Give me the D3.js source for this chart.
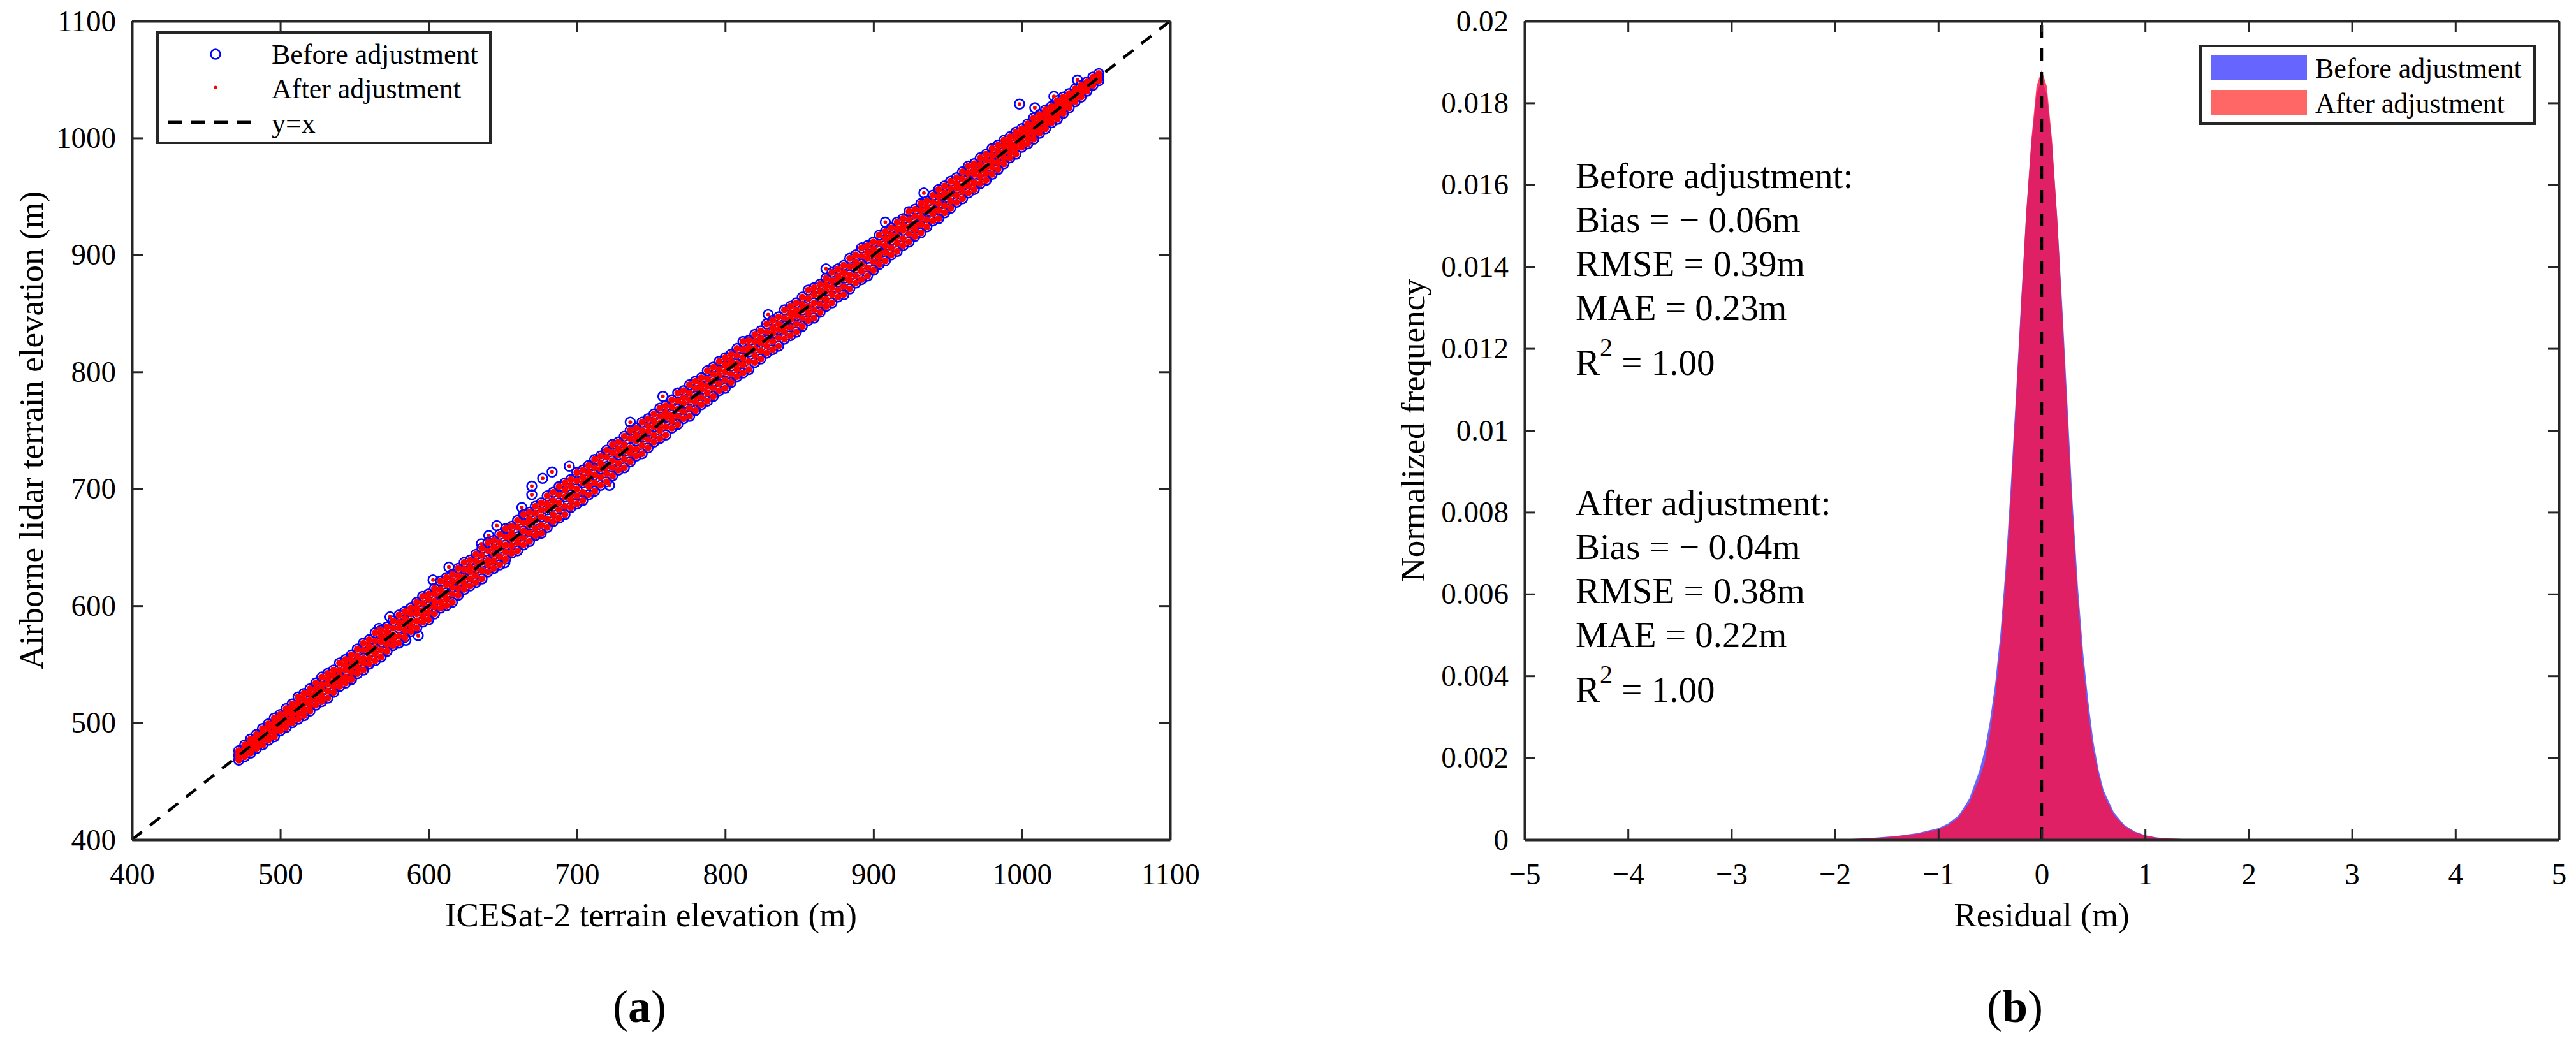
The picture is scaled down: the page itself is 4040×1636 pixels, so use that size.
<!DOCTYPE html>
<html><head><meta charset="utf-8">
<script src="https://cdn.jsdelivr.net/npm/d3@7"></script>
<style>
body{margin:0;background:#fff}
svg text{font-family:"Liberation Serif","Times New Roman",serif;fill:#000}
</style>
</head><body><svg id="c" width="4040" height="1636"></svg>
<script>
// ---------- (a) scatter data ----------
const elevation = [472,476,480,484,488,492,496,500,504,508,
512,516,520,524,528,532,536,540,544,548,
552,556,560,564,568,572,576,580,584,588,
592,596,600,604,608,612,616,620,624,628,
632,636,640,644,648,652,656,660,664,668,
672,676,680,684,688,692,696,700,704,708,
712,716,720,724,728,732,736,740,744,748,
752,756,760,764,768,772,776,780,784,788,
792,796,800,804,808,812,816,820,824,828,
832,836,840,844,848,852,856,860,864,868,
872,876,880,884,888,892,896,900,904,908,
912,916,920,924,928,932,936,940,944,948,
952,956,960,964,968,972,976,980,984,988,
992,996,1000,1004,1008,1012,1016,1020,1024,1028,
1032,1036,1040,1044,1048,1052];
// residuals (airborne - ICESat-2, m) of the scatter rows
const beforeHigh = [4,5,6,6,7,7,8,7,8,8, 10,9,9,10,11,10,9,11,10,10, 11,12,11,13,11,10,11,12,11,10, 11,12,10,11,13,12,11,12,13,11,
12,13,14,12,13,14,12,13,14,12, 13,12,14,13,14,13,12,14,12,12, 13,12,13,14,12,13,14,12,13,12, 12,13,11,12,14,12,13,12,11,13,
12,13,12,11,12,14,11,12,11,13, 12,11,13,12,11,12,14,12,11,12, 13,12,11,13,12,14,12,11,13,12, 11,12,11,13,11,12,10,11,12,11,
11,10,11,12,10,11,10,11,10,10, 9,9,8,8,9,8,8,7,8,7, 6,6,5,4,4,3];
const beforeMid = [0,1,0,-1,1,0,1,0,-1,0, 1,0,-1,1,0,1,-1,0,1,0, 0,-1,1,0,1,0,-1,1,0,-1, 1,0,-1,0,1,-1,0,1,0,1,
0,1,-1,0,1,0,1,-1,0,1, 1,0,2,1,0,1,-1,0,1,0, 0,1,-1,0,1,0,-1,1,0,1, 1,0,1,-1,0,1,0,-1,1,0,
0,1,0,1,-1,0,1,0,1,-1, 1,0,-1,1,0,1,0,-1,0,1, 0,1,0,-1,1,0,1,0,-1,0, 1,0,1,0,-1,0,1,-1,0,1,
0,1,-1,0,1,0,-1,0,1,0, 0,-1,1,0,0,1,-1,0,1,0, 0,1,0,0,1,0];
const beforeLow = [-4,-5,-6,-6,-7,-7,-8,-7,-8,-8, -9,-10,-10,-9,-10,-11,-10,-9,-10,-11, -10,-11,-10,-11,-12,-11,-10,-12,-11,-10, -11,-10,-12,-11,-10,-12,-13,-11,-10,-11,
-12,-13,-11,-12,-13,-12,-11,-13,-12,-13, -12,-14,-13,-12,-13,-14,-12,-13,-14,-13, -14,-13,-14,-13,-12,-14,-13,-12,-14,-13, -12,-13,-14,-12,-13,-12,-14,-13,-12,-13,
-13,-12,-14,-13,-12,-13,-14,-12,-13,-12, -13,-14,-12,-13,-14,-13,-12,-14,-13,-12, -13,-12,-14,-13,-12,-13,-14,-13,-12,-13, -12,-13,-12,-13,-12,-13,-12,-11,-13,-12,
-12,-11,-12,-11,-12,-11,-12,-11,-11,-10, -9,-10,-8,-9,-9,-8,-8,-7,-8,-7, -6,-5,-5,-4,-3,-3];
const afterHigh = [4,5,6,6,7,7,8,7,8,8, 10,9,9,10,11,10,9,11,10,10, 11,12,11,13,11,10,11,12,11,10, 11,12,10,11,13,12,11,12,13,11,
12,13,14,12,13,14,12,13,14,12, 13,12,14,13,14,13,12,14,12,12, 13,12,13,14,12,13,14,12,13,12, 12,13,11,12,14,12,13,12,11,13,
12,13,12,11,12,14,11,12,11,13, 12,11,13,12,11,12,14,12,11,12, 13,12,11,13,12,14,12,11,13,12, 11,12,11,13,11,12,10,11,12,11,
11,10,11,12,10,11,10,11,10,10, 9,9,8,8,9,8,8,7,8,7, 6,6,5,4,4,3];
const afterUpper = [2,2,3,3,3,4,4,3,4,4, 5,4,5,5,5,5,4,5,5,5, 5,6,5,6,6,5,5,6,5,5, 6,6,5,6,6,6,5,6,7,5,
6,7,7,6,6,7,6,7,7,6, 7,6,7,6,7,7,6,7,6,6, 6,6,7,7,6,6,7,6,6,6, 6,6,5,6,7,6,6,6,5,6,
6,6,6,5,6,7,5,6,5,6, 6,5,6,6,5,6,7,6,5,6, 6,6,5,6,6,7,6,5,6,6, 5,6,5,6,5,6,5,5,6,5,
5,5,5,6,5,5,5,5,5,5, 4,4,4,4,4,4,4,3,4,3, 3,3,2,2,2,1];
const afterMid = [0,1,0,-1,1,0,1,0,-1,0, 1,0,-1,1,0,1,-1,0,1,0, 0,-1,1,0,1,0,-1,1,0,-1, 1,0,-1,0,1,-1,0,1,0,1,
0,1,-1,0,1,0,1,-1,0,1, 1,0,2,1,0,1,-1,0,1,0, 0,1,-1,0,1,0,-1,1,0,1, 1,0,1,-1,0,1,0,-1,1,0,
0,1,0,1,-1,0,1,0,1,-1, 1,0,-1,1,0,1,0,-1,0,1, 0,1,0,-1,1,0,1,0,-1,0, 1,0,1,0,-1,0,1,-1,0,1,
0,1,-1,0,1,0,-1,0,1,0, 0,-1,1,0,0,1,-1,0,1,0, 0,1,0,0,1,0];
const afterLower = [-2,-2,-3,-3,-3,-4,-4,-3,-4,-4, -4,-5,-5,-4,-5,-5,-5,-4,-5,-5, -5,-5,-5,-5,-6,-5,-5,-6,-5,-5, -5,-5,-6,-5,-5,-6,-6,-5,-5,-5,
-6,-6,-5,-6,-6,-6,-5,-6,-6,-6, -6,-7,-6,-6,-6,-7,-6,-6,-7,-6, -7,-6,-7,-6,-6,-7,-6,-6,-7,-6, -6,-6,-7,-6,-6,-6,-7,-6,-6,-6,
-6,-6,-7,-6,-6,-6,-7,-6,-6,-6, -6,-7,-6,-6,-7,-6,-6,-7,-6,-6, -6,-6,-7,-6,-6,-6,-7,-6,-6,-6, -6,-6,-6,-6,-6,-6,-6,-5,-6,-6,
-6,-5,-6,-5,-6,-5,-6,-5,-5,-5, -4,-5,-4,-4,-4,-4,-4,-3,-4,-3, -3,-2,-2,-2,-1,-1];
const afterLow = [-4,-5,-6,-6,-7,-7,-8,-7,-8,-8, -9,-10,-10,-9,-10,-11,-10,-9,-10,-11, -10,-11,-10,-11,-12,-11,-10,-12,-11,-10, -11,-10,-12,-11,-10,-12,-13,-11,-10,-11,
-12,-13,-11,-12,-13,-12,-11,-13,-12,-13, -12,-14,-13,-12,-13,-14,-12,-13,-14,-13, -14,-13,-14,-13,-12,-14,-13,-12,-14,-13, -12,-13,-14,-12,-13,-12,-14,-13,-12,-13,
-13,-12,-14,-13,-12,-13,-14,-12,-13,-12, -13,-14,-12,-13,-14,-13,-12,-14,-13,-12, -13,-12,-14,-13,-12,-13,-14,-13,-12,-13, -12,-13,-12,-13,-12,-13,-12,-11,-13,-12,
-12,-11,-12,-11,-12,-11,-12,-11,-11,-10, -9,-10,-8,-9,-9,-8,-8,-7,-8,-7, -6,-5,-5,-4,-3,-3];
// isolated points (ICESat-2 elevation, airborne elevation)
const outlierX       = [566.6,574,584.7,593,603,613.7,635.6,640.6,646,651.4,662.9,669.6,669.6,676.9,683.3,694.9,722,736,758,829,868,908,934,998.5,1008.8,1021.7,1037.6];
const outlierBeforeY = [580.7,590.5,570.5,574.5,622,633,653,660,668.5,636.8,684,695,702.3,709,714.4,719.3,703,757,779,849,888,928,953,1029,1025.8,1035.6,1049.6];
const outlierAfterY  = [580.7,590.5,570.5,574.5,622,633,653,660,668.5,636.8,684,695,702.3,709,714.4,719.3,703,757,779,849,888,928,953,1029,1025.8,1035.6,1049.6];
const ticksA = [400,500,600,700,800,900,1000,1100];

// ---------- (b) histogram data ----------
const histResidual = [-2.0,-1.8,-1.6,-1.4,-1.2,-1.0,-0.9,-0.8,-0.7,-0.6,-0.55,-0.5,-0.45,-0.4,-0.35,-0.3,-0.25,-0.2,-0.15,-0.1,-0.05,0,0.05,0.1,0.15,0.2,0.25,0.3,0.35,0.4,0.45,0.5,0.55,0.6,0.7,0.8,0.9,1.0,1.1,1.2,1.4,1.6];
const beforeFreq = [0,0.00002,0.00005,0.00009,0.00016,0.00028,0.0004,0.0006,0.001,0.0017,0.0022,0.0029,0.0038,0.0050,0.0066,0.0086,0.0108,0.0131,0.0153,0.0170,0.0182,0.0186,0.0182,0.0170,0.0152,0.0130,0.0106,0.0082,0.0062,0.0046,0.0034,0.0024,0.0017,0.0012,0.00066,0.00036,0.0002,0.00011,0.00006,0.00003,0.00001,0];
const afterFreq  = [0,0.00002,0.00004,0.00008,0.00014,0.00025,0.00036,0.00055,0.0009,0.0015,0.0019,0.0026,0.0035,0.0047,0.0063,0.0083,0.0106,0.0130,0.0153,0.0171,0.0184,0.0188,0.0184,0.0171,0.0152,0.0128,0.0103,0.0079,0.0059,0.0043,0.0031,0.0022,0.0016,0.0011,0.0006,0.00033,0.00018,0.0001,0.00005,0.00003,0.00001,0];
const ticksBx = [-5,-4,-3,-2,-1,0,1,2,3,4,5];
const ticksBy = [0,0.002,0.004,0.006,0.008,0.01,0.012,0.014,0.016,0.018,0.02];
const statsBefore = ["Before adjustment:","Bias = \u2212 0.06m","RMSE = 0.39m","MAE = 0.23m","1.00"];
const statsAfter  = ["After adjustment:","Bias = \u2212 0.04m","RMSE = 0.38m","MAE = 0.22m","1.00"];
const seriesNames = ["Before adjustment","After adjustment"];

// ---------- drawing ----------
const svg = d3.select("#c");
const AX = "#262626", TICKFS = 47, TITLEFS = 53;

function frame(x, y, xt, yt, fx, fy){
  const [x0,x1] = x.range(), y1 = y.range()[1];
  const g = svg.append("g");
  const b = g.append("g").attr("transform",`translate(0,${y.range()[0]})`)
    .call(d3.axisBottom(x).tickValues(xt).tickFormat(fx).tickSize(-17).tickPadding(37).tickSizeOuter(0));
  const t = g.append("g").attr("transform",`translate(0,${y1})`)
    .call(d3.axisTop(x).tickValues(xt).tickFormat("").tickSize(-17).tickSizeOuter(0));
  const l = g.append("g").attr("transform",`translate(${x0},0)`)
    .call(d3.axisLeft(y).tickValues(yt).tickFormat(fy).tickSize(-17).tickPadding(25).tickSizeOuter(0));
  const r = g.append("g").attr("transform",`translate(${x1},0)`)
    .call(d3.axisRight(y).tickValues(yt).tickFormat("").tickSize(-17).tickSizeOuter(0));
  [b,t,l,r].forEach(a=>{
    a.select(".domain").attr("stroke",AX).attr("stroke-width",4);
    a.selectAll(".tick line").attr("stroke",AX).attr("stroke-width",3);
    a.selectAll("text").attr("font-size",TICKFS).attr("font-family","Liberation Serif").attr("fill","#000");
  });
  return g;
}

// (a) scales
const xA = d3.scaleLinear([400,1100],[207,1835]);
const yA = d3.scaleLinear([400,1100],[1317,33]);
const gA = svg.append("g");
const beforePts = [];
[beforeHigh,beforeMid,beforeLow].forEach(row=>elevation.forEach((e,i)=>beforePts.push([e,e+row[i]])));
outlierX.forEach((e,i)=>beforePts.push([e,outlierBeforeY[i]]));
const afterPts = [];
[afterHigh,afterUpper,afterMid,afterLower,afterLow].forEach(row=>elevation.forEach((e,i)=>afterPts.push([e,e+row[i]])));
gA.selectAll("circle.b").data(beforePts).join("circle").attr("class","b")
  .attr("cx",d=>xA(d[0])).attr("cy",d=>yA(d[1])).attr("r",7.5)
  .attr("fill","none").attr("stroke","#0000ff").attr("stroke-width",2.5);
gA.selectAll("circle.a").data(afterPts).join("circle").attr("class","a")
  .attr("cx",d=>xA(d[0])).attr("cy",d=>yA(d[1])).attr("r",5.5).attr("fill","#ff0000");
gA.selectAll("circle.ao").data(outlierX.map((e,i)=>[e,outlierAfterY[i]])).join("circle").attr("class","ao")
  .attr("cx",d=>xA(d[0])).attr("cy",d=>yA(d[1])).attr("r",3).attr("fill","#ff0000");
// y = x reference line
gA.append("line").attr("x1",xA(400)).attr("y1",yA(400)).attr("x2",xA(1100)).attr("y2",yA(1100))
  .attr("stroke","#000").attr("stroke-width",4.5).attr("stroke-dasharray","20,16");
frame(xA,yA,ticksA,ticksA,d=>String(d),d=>String(d));

// legend (a)
const lgA = svg.append("g");
lgA.append("rect").attr("x",247).attr("y",51).attr("width",522).attr("height",173)
  .attr("fill","#fff").attr("stroke",AX).attr("stroke-width",4);
lgA.append("circle").attr("cx",338).attr("cy",85).attr("r",7.5).attr("fill","none").attr("stroke","#0000ff").attr("stroke-width",2.5);
lgA.append("circle").attr("cx",338).attr("cy",137).attr("r",2.5).attr("fill","#ff0000");
lgA.append("line").attr("x1",263).attr("x2",398).attr("y1",192).attr("y2",192)
  .attr("stroke","#000").attr("stroke-width",5).attr("stroke-dasharray","22,14");
[seriesNames[0],seriesNames[1],"y=x"].forEach((s,i)=>
  lgA.append("text").attr("x",426).attr("y",100+i*54).attr("font-size",44).text(s));

// titles (a)
svg.append("text").attr("x",1021).attr("y",1453).attr("text-anchor","middle").attr("font-size",TITLEFS)
  .text("ICESat-2 terrain elevation (m)");
svg.append("text").attr("transform","translate(67,675) rotate(-90)").attr("text-anchor","middle").attr("font-size",TITLEFS)
  .text("Airborne lidar terrain elevation (m)");
svg.append("text").attr("x",1003).attr("y",1603).attr("text-anchor","middle").attr("font-size",72)
  .html('(<tspan font-weight="bold">a</tspan>)');

// (b) scales
const xB = d3.scaleLinear([-5,5],[2391,4013]);
const yB = d3.scaleLinear([0,0.02],[1317,33]);
const gB = svg.append("g");
const area = (vals)=>d3.area().x((d,i)=>xB(histResidual[i])).y0(yB(0)).y1((d)=>yB(d))(vals);
gB.append("path").attr("d",area(beforeFreq)).attr("fill","#0000ff").attr("fill-opacity",0.6);
gB.append("path").attr("d",area(afterFreq)).attr("fill","rgb(255,15,61)").attr("fill-opacity",0.8);
gB.append("line").attr("x1",xB(0)).attr("x2",xB(0)).attr("y1",yB(0)).attr("y2",yB(0.02))
  .attr("stroke","#000").attr("stroke-width",4.5).attr("stroke-dasharray","20,17");
frame(xB,yB,ticksBx,ticksBy,d=>d<0?"\u2212"+Math.abs(d):String(d),d=>String(d));

// legend (b)
const lgB = svg.append("g");
lgB.append("rect").attr("x",3451).attr("y",72).attr("width",524).attr("height",122)
  .attr("fill","#fff").attr("stroke",AX).attr("stroke-width",4);
lgB.append("rect").attr("x",3467).attr("y",86).attr("width",151).attr("height",39).attr("fill","#0000ff").attr("fill-opacity",0.6);
lgB.append("rect").attr("x",3467).attr("y",141).attr("width",151).attr("height",39).attr("fill","#ff0000").attr("fill-opacity",0.6);
seriesNames.forEach((s,i)=>lgB.append("text").attr("x",3631).attr("y",122+i*55).attr("font-size",44).text(s));

// stats text
function stats(lines, y0){
  const fs = 57;
  lines.slice(0,4).forEach((s,i)=>svg.append("text").attr("x",2471).attr("y",y0+i*69).attr("font-size",fs).text(s));
  const t = svg.append("text").attr("x",2471).attr("y",y0+3*69+86).attr("font-size",fs);
  t.append("tspan").text("R");
  t.append("tspan").attr("dy",-30).attr("font-size",40).text("2");
  t.append("tspan").attr("dy",30).text(" = "+lines[4]);
}
stats(statsBefore,295);
stats(statsAfter,808);

svg.append("text").attr("x",3202).attr("y",1453).attr("text-anchor","middle").attr("font-size",TITLEFS).text("Residual (m)");
svg.append("text").attr("transform","translate(2234,675) rotate(-90)").attr("text-anchor","middle").attr("font-size",TITLEFS)
  .text("Normalized frequency");
svg.append("text").attr("x",3160).attr("y",1603).attr("text-anchor","middle").attr("font-size",72)
  .html('(<tspan font-weight="bold">b</tspan>)');
</script></body></html>
